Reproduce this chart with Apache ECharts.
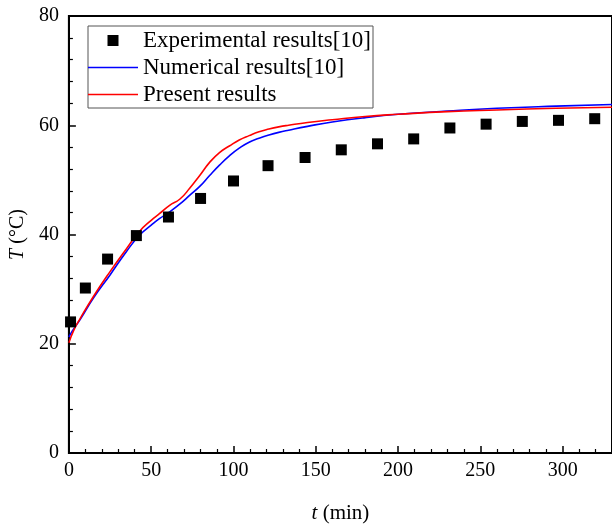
<!DOCTYPE html>
<html>
<head>
<meta charset="utf-8">
<script src="https://cdn.jsdelivr.net/npm/echarts@6/dist/echarts.min.js"></script>
<style>html,body{margin:0;padding:0;background:#fff}#c{width:612px;height:529px}</style>
</head>
<body>
<div id="c"></div>
<script>
// Experimental results [10]
var expTime = [1, 10, 23.5, 41, 60.5, 80, 100, 121, 143.5, 165.5, 187.5, 209.5, 231.5, 253.5, 275.5, 297.5, 319.5];
var expTemp = [24, 30.2, 35.5, 39.8, 43.2, 46.6, 49.8, 52.6, 54.1, 55.5, 56.6, 57.5, 59.5, 60.2, 60.7, 60.9, 61.2];
// Numerical results [10]
var numTime = [0, 2, 7, 15, 25, 35, 43, 50, 55, 61, 67.5, 73.5, 79.5, 85.5, 91.5, 97.5, 103.5, 109.5, 115.5, 121.5, 127.5, 133.5, 145, 160, 180, 200, 230, 260, 296, 330];
var numTemp = [21.2, 22.3, 24.5, 28.4, 32.6, 36.9, 39.9, 41.7, 42.9, 44.1, 45.6, 47.2, 48.8, 50.8, 52.7, 54.4, 55.8, 56.9, 57.6, 58.2, 58.7, 59.1, 59.8, 60.6, 61.4, 62, 62.6, 63.1, 63.5, 63.8];
// Present results
var preTime = [0, 3, 7, 15, 25, 35, 43, 50, 55, 61, 67.5, 73.5, 79.5, 85.5, 91.5, 97.5, 103.5, 109.5, 115.5, 121.5, 127.5, 133.5, 145, 160, 180, 200, 230, 260, 296, 330];
var preTemp = [20.2, 22.5, 24.7, 28.7, 33.2, 37.4, 40.6, 42.6, 43.8, 45.3, 46.5, 48.5, 50.8, 53.2, 55.0, 56.2, 57.3, 58.1, 58.8, 59.3, 59.7, 60.0, 60.5, 61.0, 61.6, 62, 62.5, 62.8, 63.1, 63.3];

var seriesNames = ['Experimental results[10]', 'Numerical results[10]', 'Present results'];

function zip(a, b) { return a.map(function (v, i) { return [v, b[i]]; }); }

var FONT = 'Liberation Serif';
var squareIcon = 'path://M0,0L10,0L10,10L0,10Z';
var lineIcon = 'path://M0,0L50,0L50,1.6L0,1.6Z';
var chart = echarts.init(document.getElementById('c'), null, { renderer: 'canvas' });
chart.setOption({
  animation: false,
  backgroundColor: '#ffffff',
  grid: { left: 68, top: 16, width: 548, height: 440, show: true, borderColor: '#000', borderWidth: 2, backgroundColor: 'transparent' },
  legend: {
    orient: 'vertical', left: 88, top: 26,
    padding: [3, 2, 2, 0], itemGap: 4, itemWidth: 50, itemHeight: 11,
    borderColor: '#555', borderWidth: 1, backgroundColor: '#fff',
    textStyle: { fontFamily: FONT, fontSize: 23, color: '#000', lineHeight: 23 },
    data: [
      { name: seriesNames[0], icon: squareIcon, itemStyle: { color: '#000' } },
      { name: seriesNames[1], icon: lineIcon, itemStyle: { color: '#0000ff' } },
      { name: seriesNames[2], icon: lineIcon, itemStyle: { color: '#ff0000' } }
    ]
  },
  xAxis: {
    type: 'value', min: 0, max: 330, interval: 50,
    name: '{i|t} {n|(min)}', nameLocation: 'middle', nameGap: 50,
    nameTextStyle: { fontFamily: FONT, fontSize: 21, color: '#000',
      rich: { i: { fontFamily: FONT, fontStyle: 'italic', fontSize: 21 }, n: { fontFamily: FONT, fontSize: 21 } } },
    axisLine: { lineStyle: { color: '#000', width: 2 } },
    axisTick: { inside: true, length: 7, lineStyle: { color: '#000', width: 1.5 } },
    minorTick: { show: true, splitNumber: 5, length: 4, lineStyle: { color: '#000', width: 1.2 } },
    axisLabel: { fontFamily: FONT, fontSize: 20, color: '#000', margin: 8, showMaxLabel: false },
    splitLine: { show: false }
  },
  yAxis: {
    type: 'value', min: 0, max: 80, interval: 20,
    name: '{i|T} {n|(°C)}', nameLocation: 'middle', nameGap: 37, nameRotate: 90,
    nameTextStyle: { fontFamily: FONT, fontSize: 20, color: '#000',
      rich: { i: { fontFamily: FONT, fontStyle: 'italic', fontSize: 20 }, n: { fontFamily: FONT, fontSize: 20 } } },
    axisLine: { lineStyle: { color: '#000', width: 2 } },
    axisTick: { inside: true, length: 7, lineStyle: { color: '#000', width: 1.5 } },
    minorTick: { show: true, splitNumber: 5, length: 4, lineStyle: { color: '#000', width: 1.2 } },
    axisLabel: { fontFamily: FONT, fontSize: 20, color: '#000', margin: 10 },
    splitLine: { show: false }
  },
  series: [
    { name: seriesNames[0], type: 'scatter', symbol: 'rect', symbolSize: 11, itemStyle: { color: '#000', opacity: 1 }, data: zip(expTime, expTemp), z: 5 },
    { name: seriesNames[1], type: 'line', smooth: 0.5, showSymbol: false, symbol: 'none', lineStyle: { color: '#0000ff', width: 1.6 }, itemStyle: { color: '#0000ff' }, data: zip(numTime, numTemp), z: 3 },
    { name: seriesNames[2], type: 'line', smooth: 0.5, showSymbol: false, symbol: 'none', lineStyle: { color: '#ff0000', width: 1.6 }, itemStyle: { color: '#ff0000' }, data: zip(preTime, preTemp), z: 4 }
  ]
});
</script>
</body>
</html>
